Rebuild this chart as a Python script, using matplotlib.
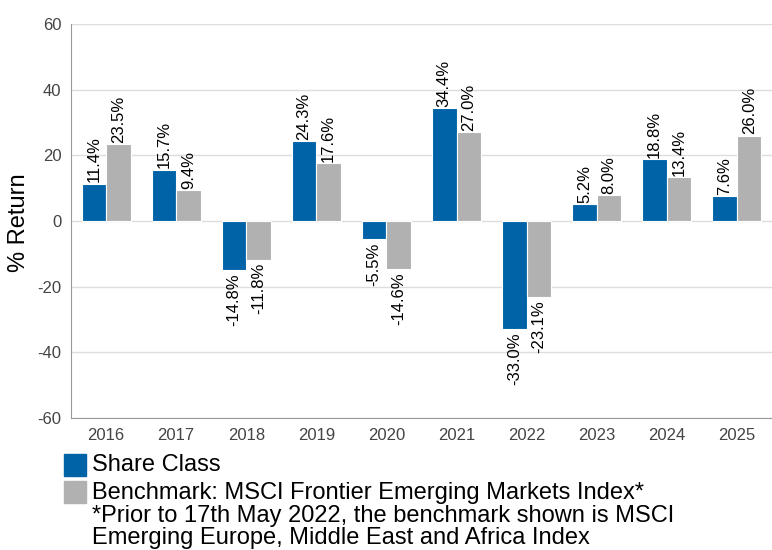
import matplotlib.pyplot as plt
from matplotlib.patches import Rectangle
import numpy as np

plt.rcParams['font.family'] = ['Liberation Sans', 'DejaVu Sans']
plt.rcParams['axes.unicode_minus'] = False

years = ['2016', '2017', '2018', '2019', '2020', '2021', '2022', '2023', '2024', '2025']
share_class = [11.4, 15.7, -14.8, 24.3, -5.5, 34.4, -33.0, 5.2, 18.8, 7.6]
benchmark = [23.5, 9.4, -11.8, 17.6, -14.6, 27.0, -23.1, 8.0, 13.4, 26.0]
y_ticks = [-60, -40, -20, 0, 20, 40, 60]

blue = '#0062a7'
grey = '#b1b1b1'

fig = plt.figure(figsize=(7.72, 5.5), dpi=100)
ax = fig.add_axes([0.092, 0.24, 0.908, 0.716])

x = np.arange(len(years))
w = 0.35

ax.bar(x - w / 2, share_class, w, color=blue, edgecolor='white', linewidth=0.8, zorder=3)
ax.bar(x + w / 2, benchmark, w, color=grey, edgecolor='white', linewidth=0.8, zorder=3)

# value labels, rotated
for xs, vals in ((x - w / 2, share_class), (x + w / 2, benchmark)):
    for xi, v in zip(xs, vals):
        off = 0.4 if v >= 0 else -1.0
        ax.text(xi, v + off, f'{v:.1f}%', rotation=90, ha='center',
                va='bottom' if v >= 0 else 'top', fontsize=12, color='black', zorder=4)

ax.set_xlim(-0.5, len(years) - 0.5)
ax.set_ylim(-60, 60)
ax.set_yticks(y_ticks)
ax.set_xticks(x)
ax.set_xticklabels(years)
ax.tick_params(axis='both', length=0, labelsize=12, labelcolor='#444444')
ax.tick_params(axis='y', pad=7)
ax.tick_params(axis='x', pad=7)
ax.grid(axis='y', color='#dddddd', linewidth=1, zorder=0)
for s in ('top', 'right'):
    ax.spines[s].set_visible(False)
for s in ('left', 'bottom'):
    ax.spines[s].set_color('#999999')

W, H = 772, 550
fig.text(19 / W, 1 - 223 / H, '% Return', fontsize=17, rotation=90, ha='center', va='center')

# legend, drawn by hand below the axes
def box(px, py, color):
    fig.patches.append(Rectangle((px / W, 1 - (py + 22) / H), 22 / W, 22 / H,
                                 transform=fig.transFigure, color=color))

box(64, 454, blue)
box(64, 481, grey)
fs = 17
fig.text(92 / W, 1 - 465 / H, 'Share Class', fontsize=fs, va='center')
fig.text(92 / W, 1 - 493 / H, 'Benchmark: MSCI Frontier Emerging Markets Index*', fontsize=fs, va='center')
fig.text(92 / W, 1 - 516 / H, '*Prior to 17th May 2022, the benchmark shown is MSCI', fontsize=fs, va='center')
fig.text(92 / W, 1 - 538 / H, 'Emerging Europe, Middle East and Africa Index', fontsize=fs, va='center')

fig.savefig('out.png', dpi=100)
